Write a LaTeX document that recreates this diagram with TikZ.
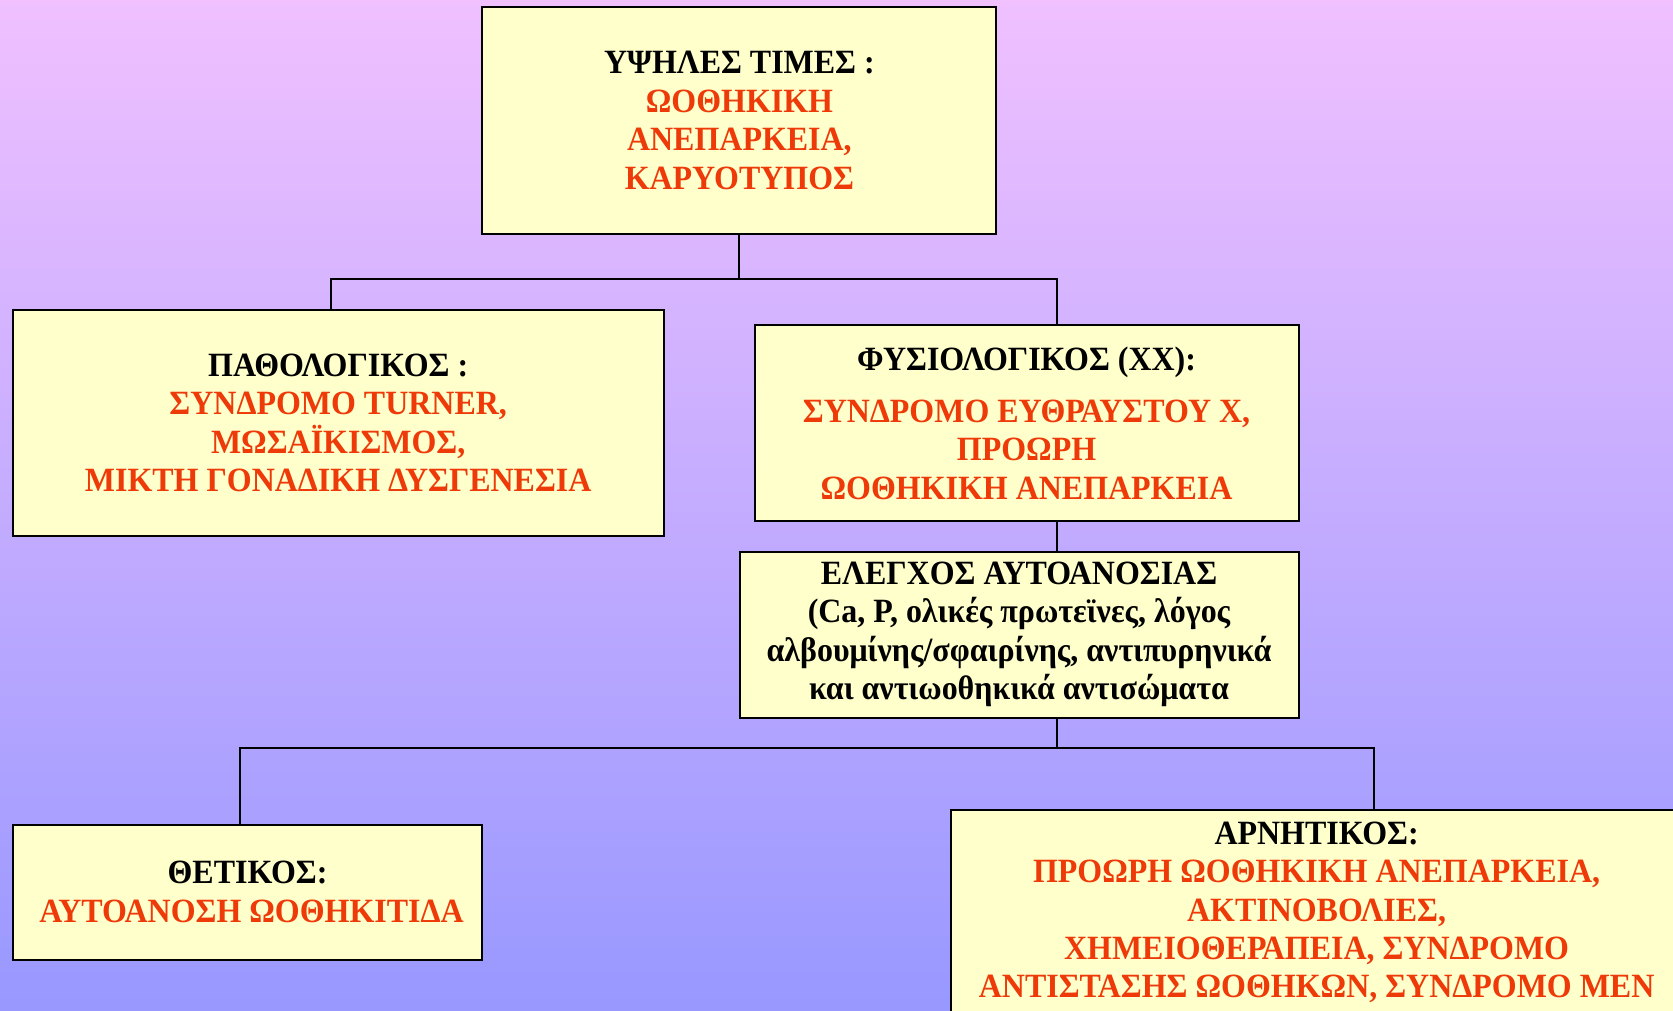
\documentclass[tikz,border=0pt]{standalone}
\usepackage{fontspec}
\setmainfont{Liberation Serif}[FakeStretch=0.94]
\definecolor{bgtop}{RGB}{240,192,255}
\definecolor{bgmid}{RGB}{182,166,255}
\definecolor{bgbot}{RGB}{152,152,255}
\definecolor{boxfill}{RGB}{255,255,204}
\definecolor{hot}{RGB}{238,58,8}
\begin{document}
\begin{tikzpicture}[x=1pt,y=-1pt,
  box/.style={draw=black, line width=2pt, fill=boxfill, inner sep=0pt,
    align=center, font=\fontsize{34}{38.4}\selectfont\bfseries},
  link/.style={line width=2pt, draw=black}]
% page and gradient background
\useasboundingbox (0,0) rectangle (1673,1010);
\clip (0,0) rectangle (1673,1010);
\shade[top color=bgtop, middle color=bgmid, bottom color=bgbot] (0,0) rectangle (1673,1010);

% boxes
\node[box, minimum width=514pt, minimum height=227pt] (top) at (739.4,120.5)
  {ΥΨΗΛΕΣ ΤΙΜΕΣ :\\ \textcolor{hot}{ΩΟΘΗΚΙΚΗ}\\ \textcolor{hot}{ΑΝΕΠΑΡΚΕΙΑ,}\\ \textcolor{hot}{ΚΑΡΥΟΤΥΠΟΣ}};
\node[box, minimum width=651pt, minimum height=226pt] (patho) at (338.2,423)
  {ΠΑΘΟΛΟΓΙΚΟΣ :\\ \textcolor{hot}{ΣΥΝΔΡΟΜΟ TURNER,}\\ \textcolor{hot}{ΜΩΣΑΪΚΙΣΜΟΣ,}\\ \textcolor{hot}{ΜΙΚΤΗ ΓΟΝΑΔΙΚΗ ΔΥΣΓΕΝΕΣΙΑ}};
\node[box, minimum width=544pt, minimum height=196pt] (physio) at (1026.5,423)
  {ΦΥΣΙΟΛΟΓΙΚΟΣ (XX):\\[14pt] \textcolor{hot}{ΣΥΝΔΡΟΜΟ ΕΥΘΡΑΥΣΤΟΥ Χ,}\\ \textcolor{hot}{ΠΡΟΩΡΗ}\\ \textcolor{hot}{ΩΟΘΗΚΙΚΗ ΑΝΕΠΑΡΚΕΙΑ}};
\node[box, minimum width=559pt, minimum height=166pt] (auto) at (1019,634.5)
  {ΕΛΕΓΧΟΣ ΑΥΤΟΑΝΟΣΙΑΣ\\ (Ca, P, ολικές πρωτεϊνες, λόγος\\ αλβουμίνης/σφαιρίνης, αντιπυρηνικά\\ και αντιωοθηκικά αντισώματα};
\node[box, minimum width=469pt, minimum height=135pt] (pos) at (247.5,892)
  {ΘΕΤΙΚΟΣ:\\ \hspace*{8pt}\textcolor{hot}{ΑΥΤΟΑΝΟΣΗ ΩΟΘΗΚΙΤΙΔΑ}};
\node[box, minimum width=732pt, minimum height=206pt] (neg) at (1316.6,912.5)
  {ΑΡΝΗΤΙΚΟΣ:\\ \textcolor{hot}{ΠΡΟΩΡΗ ΩΟΘΗΚΙΚΗ ΑΝΕΠΑΡΚΕΙΑ,}\\ \textcolor{hot}{ΑΚΤΙΝΟΒΟΛΙΕΣ,}\\ \textcolor{hot}{ΧΗΜΕΙΟΘΕΡΑΠΕΙΑ, ΣΥΝΔΡΟΜΟ}\\ \textcolor{hot}{ΑΝΤΙΣΤΑΣΗΣ ΩΟΘΗΚΩΝ, ΣΥΝΔΡΟΜΟ ΜΕΝ}};

% connectors
\coordinate (split1) at (739.4,278.5);
\coordinate (split2) at (1057.4,748);
\draw[link] (top.south) -- (split1);
\draw[link] (patho.north -| {(330.8,0)}) |- (split1) -| (physio.north -| {(1057.4,0)});
\draw[link] (physio.south -| {(1057.4,0)}) -- (auto.north -| {(1057.4,0)});
\draw[link] (auto.south -| split2) -- (split2);
\draw[link] (pos.north -| {(240,0)}) |- (split2) -| (neg.north -| {(1374.3,0)});
\end{tikzpicture}
\end{document}
